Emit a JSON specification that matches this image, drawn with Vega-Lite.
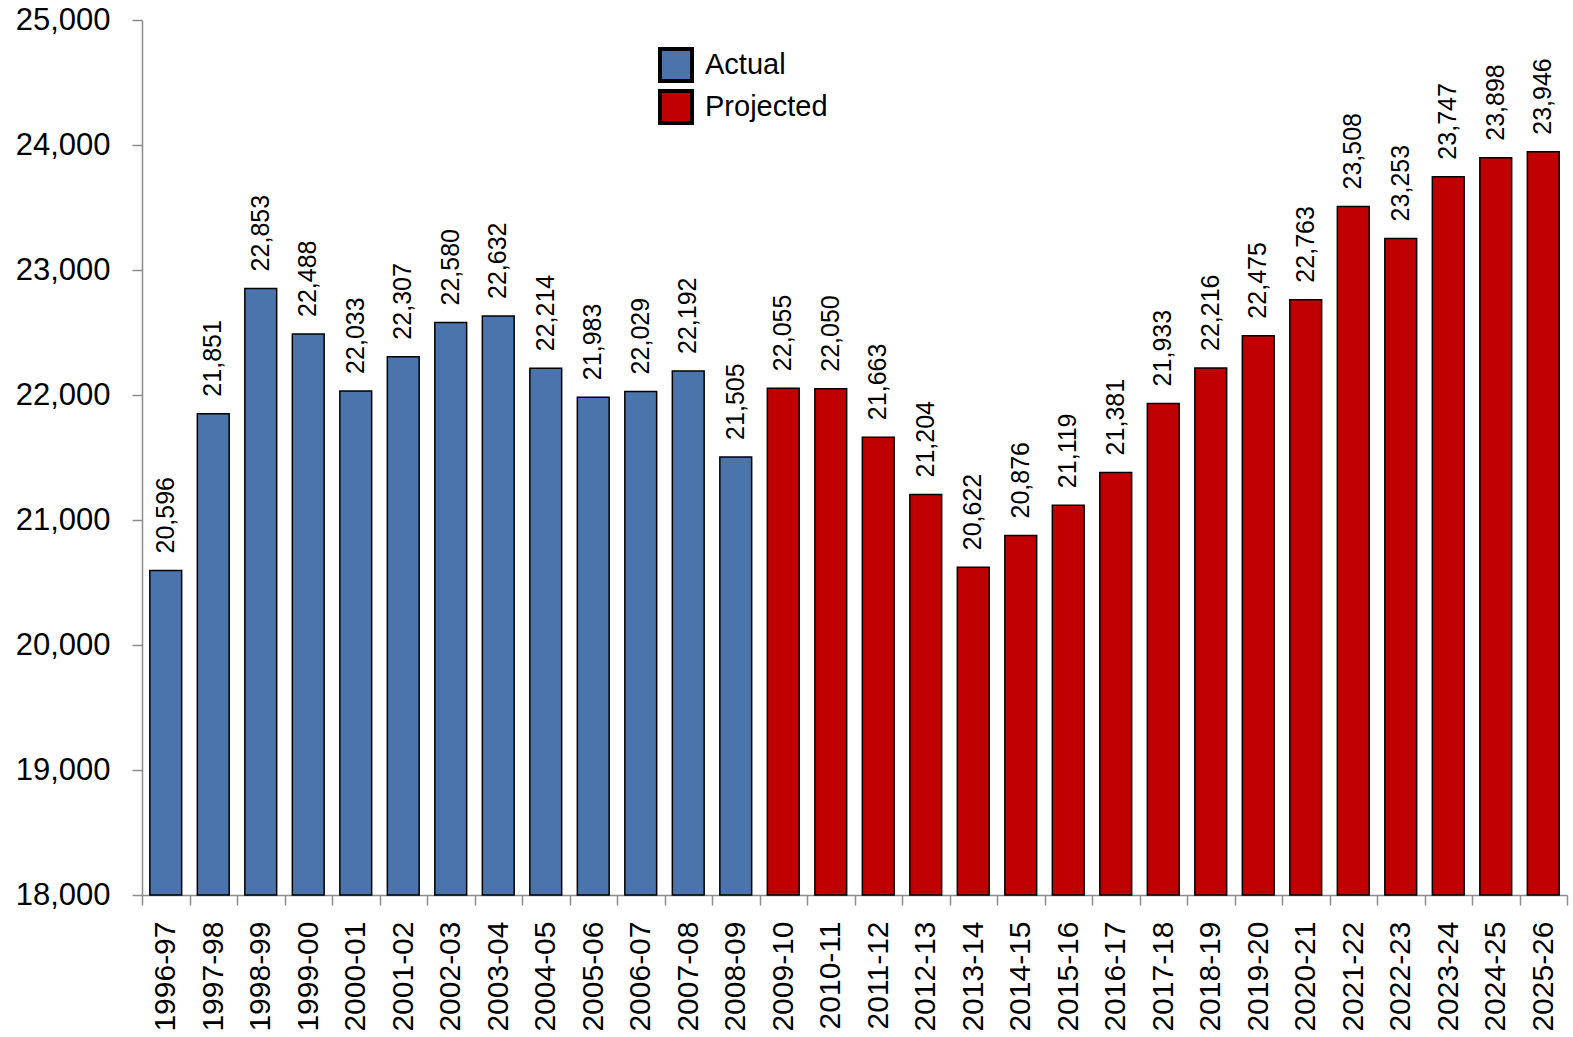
{
  "$schema": "https://vega.github.io/schema/vega-lite/v6.json",
  "width": 1425,
  "height": 875,
  "autosize": {"type": "none"},
  "padding": {"left": 142, "top": 20, "right": 6, "bottom": 142},
  "background": "white",
  "config": {
    "view": {"stroke": null},
    "font": "Liberation Sans"
  },
  "data": {
    "values": [
      {"year": "1996-97", "value": 20596, "type": "Actual"},
      {"year": "1997-98", "value": 21851, "type": "Actual"},
      {"year": "1998-99", "value": 22853, "type": "Actual"},
      {"year": "1999-00", "value": 22488, "type": "Actual"},
      {"year": "2000-01", "value": 22033, "type": "Actual"},
      {"year": "2001-02", "value": 22307, "type": "Actual"},
      {"year": "2002-03", "value": 22580, "type": "Actual"},
      {"year": "2003-04", "value": 22632, "type": "Actual"},
      {"year": "2004-05", "value": 22214, "type": "Actual"},
      {"year": "2005-06", "value": 21983, "type": "Actual"},
      {"year": "2006-07", "value": 22029, "type": "Actual"},
      {"year": "2007-08", "value": 22192, "type": "Actual"},
      {"year": "2008-09", "value": 21505, "type": "Actual"},
      {"year": "2009-10", "value": 22055, "type": "Projected"},
      {"year": "2010-11", "value": 22050, "type": "Projected"},
      {"year": "2011-12", "value": 21663, "type": "Projected"},
      {"year": "2012-13", "value": 21204, "type": "Projected"},
      {"year": "2013-14", "value": 20622, "type": "Projected"},
      {"year": "2014-15", "value": 20876, "type": "Projected"},
      {"year": "2015-16", "value": 21119, "type": "Projected"},
      {"year": "2016-17", "value": 21381, "type": "Projected"},
      {"year": "2017-18", "value": 21933, "type": "Projected"},
      {"year": "2018-19", "value": 22216, "type": "Projected"},
      {"year": "2019-20", "value": 22475, "type": "Projected"},
      {"year": "2020-21", "value": 22763, "type": "Projected"},
      {"year": "2021-22", "value": 23508, "type": "Projected"},
      {"year": "2022-23", "value": 23253, "type": "Projected"},
      {"year": "2023-24", "value": 23747, "type": "Projected"},
      {"year": "2024-25", "value": 23898, "type": "Projected"},
      {"year": "2025-26", "value": 23946, "type": "Projected"}
    ]
  },
  "encoding": {
    "x": {
      "field": "year",
      "type": "nominal",
      "sort": null,
      "scale": {"paddingInner": 0, "paddingOuter": 0},
      "axis": {
        "title": null,
        "labelAngle": -90,
        "labelFontSize": 30,
        "labelColor": "black",
        "labelPadding": 16,
        "tickBand": "extent",
        "tickSize": 10,
        "tickColor": "#8c8c8c",
        "tickWidth": 1.5,
        "domainColor": "#8c8c8c",
        "domainWidth": 1.5
      }
    },
    "y": {
      "field": "value",
      "type": "quantitative",
      "scale": {"domain": [18000, 25000], "zero": false, "nice": false},
      "axis": {
        "title": null,
        "values": [18000, 19000, 20000, 21000, 22000, 23000, 24000, 25000],
        "format": ",d",
        "grid": false,
        "labelFontSize": 31,
        "labelColor": "black",
        "labelPadding": 22,
        "tickSize": 10,
        "tickColor": "#8c8c8c",
        "tickWidth": 1.5,
        "domainColor": "#8c8c8c",
        "domainWidth": 1.5
      }
    }
  },
  "layer": [
    {
      "mark": {"type": "bar", "width": {"band": 0.67}, "stroke": "black", "strokeWidth": 1.5},
      "encoding": {
        "y2": {"datum": 18000},
        "color": {
          "field": "type",
          "type": "nominal",
          "scale": {"domain": ["Actual", "Projected"], "range": ["#4a74ab", "#c00000"]},
          "legend": {
            "title": null,
            "orient": "none",
            "legendX": 516,
            "legendY": 27,
            "symbolType": "square",
            "symbolSize": 1024,
            "symbolStrokeColor": "black",
            "symbolStrokeWidth": 4,
            "symbolOpacity": 1,
            "labelFontSize": 29,
            "labelColor": "black",
            "labelOffset": 11,
            "rowPadding": -14
          }
        }
      }
    },
    {
      "mark": {"type": "text", "angle": 270, "align": "left", "baseline": "middle", "dx": 17, "fontSize": 25, "color": "black"},
      "encoding": {
        "text": {"field": "value", "type": "quantitative", "format": ","}
      }
    }
  ]
}
